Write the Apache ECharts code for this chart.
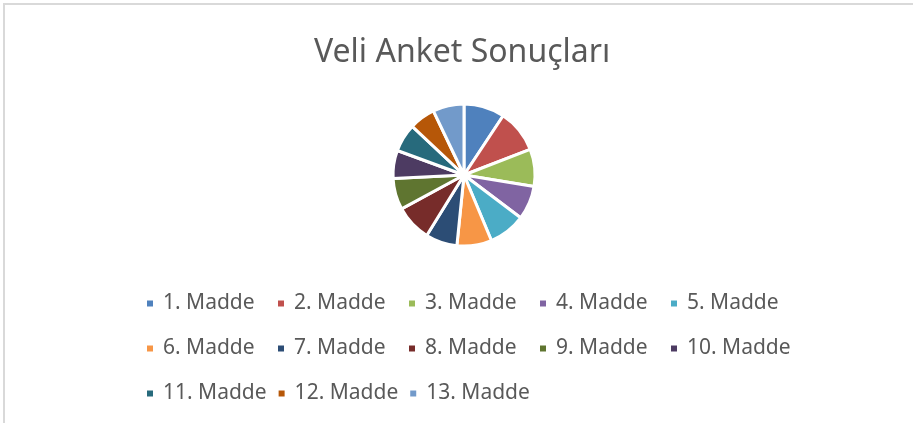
<!DOCTYPE html>
<html>
<head>
<meta charset="utf-8">
<title>Veli Anket Sonuçları</title>
<script src="https://cdn.jsdelivr.net/npm/echarts@6/dist/echarts.min.js"></script>
<style>
  html, body { margin: 0; padding: 0; background: #fff; }
  #frame {
    position: absolute; left: 3px; top: 3px; width: 910px; height: 420px;
    border-top: 2px solid #d9d9d9; border-left: 2px solid #d9d9d9;
  }
  #main { position: absolute; left: 0; top: 0; width: 913px; height: 423px; }
</style>
</head>
<body>
<div id="frame"></div>
<div id="main"></div>
<script>
// anket maddeleri ve sonuçları
var maddeler = ['1. Madde', '2. Madde', '3. Madde', '4. Madde', '5. Madde',
  '6. Madde', '7. Madde', '8. Madde', '9. Madde', '10. Madde',
  '11. Madde', '12. Madde', '13. Madde'];
var sonuclar = [93, 98, 85, 77, 84, 79, 72, 83, 71, 64, 64, 59, 71];
var renkler = ['#4F81BD', '#C0504D', '#9BBB59', '#8064A2', '#4BACC6',
  '#F79646', '#2C4D75', '#772C2A', '#5F7530', '#4D3B62',
  '#276A7C', '#B65708', '#729ACA'];

var chart = echarts.init(document.getElementById('main'));
var data = [];
for (var i = 0; i < maddeler.length; i++) {
  data.push({ name: maddeler[i], value: sonuclar[i] });
}

var option = {
  animation: false,
  color: renkler,
  title: {
    text: 'Veli Anket Sonuçları',
    left: 309,
    top: 32,
    textStyle: {
      fontFamily: 'Noto Sans',
      fontSize: 32,
      fontWeight: 'normal',
      color: '#595959'
    }
  },
  legend: {
    left: 140,
    top: 281,
    width: 680,
    icon: 'rect',
    itemWidth: 8,
    itemHeight: 8,
    itemGap: 10,
    selectedMode: false,
    textStyle: {
      fontFamily: 'Noto Sans',
      fontSize: 21,
      lineHeight: 35,
      width: 103,
      color: '#595959',
      padding: [0, 0, 0, 4]
    },
    data: maddeler
  },
  series: [{
    type: 'pie',
    center: [464, 175],
    radius: 71,
    startAngle: 90,
    clockwise: true,
    label: { show: false },
    labelLine: { show: false },
    emphasis: { disabled: true },
    itemStyle: { borderColor: '#fff', borderWidth: 3 },
    data: data
  }]
};
chart.setOption(option);
</script>
</body>
</html>
